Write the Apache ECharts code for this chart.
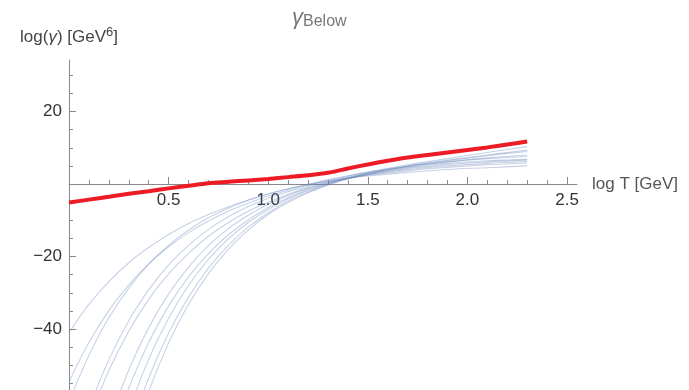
<!DOCTYPE html>
<html><head><meta charset="utf-8">
<script src="https://cdn.jsdelivr.net/npm/echarts@6/dist/echarts.min.js"></script>
<style>html,body{margin:0;padding:0;background:#fff}#c{width:689px;height:390px}</style>
</head><body><div id="c"></div>
<script>
// ---- data ----
const redLogT = [0,0.1,0.2,0.3,0.4,0.5,0.6,0.7,0.8,0.9,1.0,1.1,1.2,1.3,1.4,1.5,1.6,1.7,1.8,1.9,2.0,2.1,2.2,2.3];
const redVals = [-5.1,-4.3,-3.5,-2.7,-2.0,-1.2,-0.5,0.2,0.6,1.0,1.4,1.9,2.4,3.1,4.3,5.4,6.4,7.3,8.0,8.7,9.4,10.1,10.9,11.7];

const blueLogT = [0,0.1,0.2,0.3,0.4,0.5,0.6,0.7,0.8,0.9,1.0,1.1,1.2,1.3,1.4,1.5,1.7,1.9,2.1,2.3];
const blue0 = [-41.0,-33.2,-26.9,-21.7,-17.5,-13.9,-10.9,-8.4,-6.3,-4.4,-2.8,-1.3,0.0,1.2,2.3,3.3,5.3,7.0,8.7,10.3];
const blue1 = [-54.6,-43.7,-34.9,-27.8,-22.0,-17.3,-13.4,-10.2,-7.5,-5.3,-3.3,-1.7,-0.3,1.0,2.1,3.2,5.0,6.6,8.0,9.4];
const blue2 = [-60.2,-47.2,-36.9,-28.7,-22.1,-16.9,-12.7,-9.3,-6.7,-4.5,-2.7,-1.3,-0.2,0.8,1.6,2.2,3.2,4.0,4.5,5.0];
const blue3 = [-78.9,-61.9,-48.5,-37.7,-29.2,-22.3,-16.9,-12.5,-9.0,-6.2,-3.9,-2.1,-0.6,0.6,1.6,2.4,3.7,4.6,5.3,5.8];
const blue4 = [-82.1,-65.1,-51.5,-40.6,-31.8,-24.8,-19.1,-14.4,-10.6,-7.5,-5.0,-2.8,-1.0,0.5,1.8,3.0,4.9,6.4,7.8,9.0];
const blue5 = [null,-84.4,-66.0,-51.3,-39.6,-30.3,-22.9,-17.0,-12.3,-8.6,-5.6,-3.2,-1.2,0.3,1.5,2.6,4.0,5.0,5.7,6.2];
const blue6 = [null,-92.0,-72.1,-56.3,-43.7,-33.6,-25.6,-19.2,-14.0,-9.9,-6.5,-3.8,-1.6,0.2,1.7,2.9,4.8,6.1,7.2,8.0];
const blue7 = [null,null,-80.5,-62.6,-48.3,-37.0,-28.0,-20.8,-15.1,-10.6,-7.0,-4.1,-1.8,0.0,1.5,2.6,4.3,5.4,6.1,6.6];
const blue8 = [null,null,-89.0,-69.2,-53.5,-41.1,-31.2,-23.2,-16.9,-11.9,-7.9,-4.7,-2.2,-0.1,1.6,2.9,4.8,6.1,7.0,7.6];
const blue9 = [null,null,null,-74.2,-57.3,-43.8,-33.2,-24.7,-18.0,-12.7,-8.4,-5.1,-2.4,-0.3,1.4,2.7,4.5,5.7,6.4,6.8];
const blueSets = [blue0,blue1,blue2,blue3,blue4,blue5,blue6,blue7,blue8,blue9];

const xMinorTicks = [0.1,0.2,0.3,0.4,0.6,0.7,0.8,0.9,1.1,1.2,1.3,1.4,1.6,1.7,1.8,1.9,2.1,2.2,2.3,2.4];
const xMajorTicks = [0.5,1.0,1.5,2.0,2.5];
const xTickLabels = [0.5,1.0,1.5,2.0,2.5];
const yMinorTicks = [-55,-50,-45,-35,-30,-25,-15,-10,-5,5,10,15,25,30];
const yMajorTicks = [-40,-20,20];
const yTickLabels = [-40,-20,20];

// ---- layout ----
const FONT = 'Liberation Sans, Arial, sans-serif';
const axisGray = '#8a8a8a';
const gridTop = 60, gridBottom = -11.6, H = 390;
const yMin = -60, yMax = 34.2;
// x axis drawn at y = 0: shift it up from the grid bottom by the pixel distance of 0 above yMin
const plotH = H - gridTop - gridBottom;
const zeroOffset = -plotH * (0 - yMin) / (yMax - yMin);

const chart = echarts.init(document.getElementById('c'), null, {renderer:'canvas'});
const series = blueSets.map(vals => ({
  type:'line', xAxisIndex:0, yAxisIndex:0,
  data: blueLogT.map((x,i)=>[x, vals[i]]),
  showSymbol:false, smooth:0.4, connectNulls:false,
  lineStyle:{color:'rgba(100,130,185,0.36)', width:1.1},
  silent:true
}));
series.push({
  type:'line', xAxisIndex:0, yAxisIndex:0,
  data: redLogT.map((x,i)=>[x, redVals[i]]),
  showSymbol:false, smooth:0.3,
  lineStyle:{color:'#ec1b24', width:4},
  z:5, silent:true
});

chart.setOption({
  animation:false,
  backgroundColor:'#fff',
  title:{
    text:'{g|γ}{s|Below}', left:287, top:0,
    textStyle:{fontWeight:'normal', rich:{
      g:{fontSize:22, fontStyle:'italic', fontWeight:'normal', color:'#777', fontFamily:FONT},
      s:{fontSize:16, fontWeight:'normal', color:'#777', fontFamily:FONT, padding:[9,0,0,0]}
    }}
  },
  grid:{left:69, right:112, top:gridTop, bottom:gridBottom, containLabel:false, outerBoundsMode:'none'},
  xAxis:[{
    type:'value', min:0, max:2.55, position:'bottom', offset:zeroOffset,
    axisLine:{show:true, onZero:false, lineStyle:{color:axisGray, width:1}},
    axisTick:{show:true, inside:true, length:4, customValues:xMinorTicks, lineStyle:{color:axisGray}},
    axisLabel:{show:true, customValues:xTickLabels, margin:8, fontSize:17, color:'#333', fontFamily:FONT,
      formatter:v=>Number(v).toFixed(1)},
    splitLine:{show:false},
    name:'log T [GeV]', nameLocation:'end', nameGap:15,
    nameTextStyle:{fontSize:17, color:'#555', fontFamily:FONT}
  },{
    type:'value', min:0, max:2.55, position:'bottom', offset:zeroOffset,
    axisLine:{show:false, onZero:false},
    axisTick:{show:true, inside:true, length:7, customValues:xMajorTicks, lineStyle:{color:axisGray}},
    axisLabel:{show:false},
    splitLine:{show:false}
  }],
  yAxis:[{
    type:'value', min:yMin, max:yMax, position:'left',
    axisLine:{show:true, onZero:false, lineStyle:{color:axisGray, width:1}},
    axisTick:{show:true, inside:true, length:4, customValues:yMinorTicks, lineStyle:{color:axisGray}},
    axisLabel:{show:false}, splitLine:{show:false},
    name:'{t|log(}{gi|γ}{t|) [GeV}{sup|6}{t|]}', nameLocation:'end', nameGap:12,
    nameTextStyle:{rich:{
      t:{fontSize:17, color:'#444', fontFamily:FONT},
      gi:{fontSize:17, fontStyle:'italic', color:'#444', fontFamily:FONT},
      sup:{fontSize:13, color:'#444', fontFamily:FONT, padding:[0,0,9,0]}
    }}
  },{
    type:'value', min:yMin, max:yMax, position:'left',
    axisLine:{show:false, onZero:false},
    axisTick:{show:true, inside:true, length:7, customValues:yMajorTicks, lineStyle:{color:axisGray}},
    axisLabel:{show:true, customValues:yTickLabels, margin:7, fontSize:17, color:'#333', fontFamily:FONT,
      formatter:v=> v<0 ? '\u2212'+Math.abs(v) : String(v)},
    splitLine:{show:false}
  }],
  series: series
});
</script>
</body></html>
